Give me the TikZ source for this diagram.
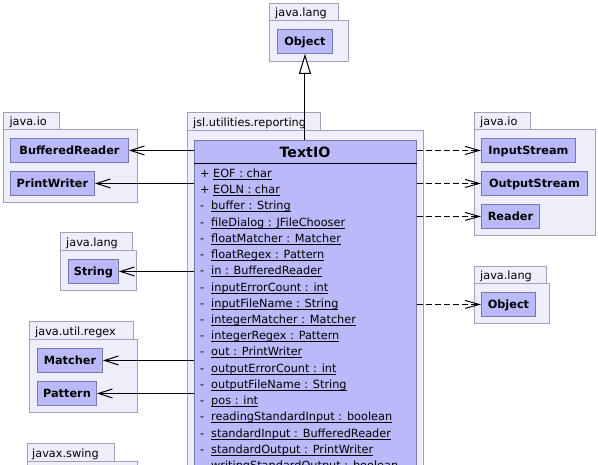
\documentclass[tikz,border=0pt]{standalone}
\usepackage{fontspec}
\setmainfont{DejaVu Sans}
\usetikzlibrary{arrows.meta}
\definecolor{pkgfill}{RGB}{238,238,250}
\definecolor{pkgline}{RGB}{160,160,184}
\definecolor{clsfill}{RGB}{186,186,250}
\definecolor{clsline}{RGB}{120,120,176}
\newcommand\ulx[1]{\setbox0\hbox{#1}\rlap{\rule[-2.4pt]{\wd0}{0.9pt}}\box0}
\begin{document}
\begin{tikzpicture}[x=1pt,y=-1pt,
  font=\fontsize{11.3}{13}\selectfont,
  pkg/.style={draw=pkgline, fill=pkgfill, line width=0.9pt},
  pkglabel/.style={anchor=base west, inner sep=0pt},
  cls/.style={draw=clsline, fill=clsfill, line width=0.9pt,
    font=\fontsize{11.3}{13}\selectfont\bfseries, text height=8.2pt,
    text depth=0pt, minimum height=24pt, inner xsep=2pt, anchor=north west},
  assoc/.style={line width=1pt, -{Straight Barb[length=14pt,width=9pt]}},
  dep/.style={line width=1pt, dash pattern=on 6pt off 3pt,
    -{Straight Barb[length=14pt,width=8pt]}},
  inh/.style={line width=1pt, -{Triangle[open,length=20pt,width=12pt,fill=white]}},
  attr/.style={anchor=base west, inner sep=0pt}]
\clip (0,0) rectangle (598,464);
\fill[white] (0,0) rectangle (598,464);
% packages
\draw[pkg] (269,3) rectangle (338,20);
\draw[pkg] (269,20) rectangle (348,61);
\node[pkglabel] (pl1) at (275,16.5) {java.lang};
\draw[pkg] (3,112) rectangle (59,129);
\draw[pkg] (3,129) rectangle (137,202);
\node[pkglabel] (pl2) at (9.3,125.5) {java.io};
\draw[pkg] (60,232) rectangle (132,250);
\draw[pkg] (60,250) rectangle (136,290);
\node[pkglabel] (pl3) at (66,246.5) {java.lang};
\draw[pkg] (29,321) rectangle (133,339);
\draw[pkg] (29,339) rectangle (137,412);
\node[pkglabel] (pl4) at (35,335.5) {java.util.regex};
\draw[pkg] (27,443) rectangle (114,461);
\draw[pkg] (27,461) rectangle (137,480);
\node[pkglabel] (pl5) at (32,457.5) {javax.swing};
\draw[pkg] (187,112) rectangle (320,130);
\draw[pkg] (187,130) rectangle (423,480);
\node[pkglabel] (pl6) at (193,126) {jsl.utilities.reporting};
\draw[pkg] (474,112) rectangle (530,129);
\draw[pkg] (474,129) rectangle (595,235);
\node[pkglabel] (pl7) at (480,125.5) {java.io};
\draw[pkg] (474,266) rectangle (546,283);
\draw[pkg] (474,283) rectangle (549,323);
\node[pkglabel] (pl8) at (480,279.5) {java.lang};
% classes
\node[cls, minimum width=55pt] (objtop) at (277,29) {Object};
\node[cls, minimum width=118pt] (br) at (10,138) {BufferedReader};
\node[cls, minimum width=84pt] (pw) at (10,171) {PrintWriter};
\node[cls, minimum width=50pt] (str) at (68,259) {String};
\node[cls, minimum width=65pt] (mat) at (37,348) {Matcher};
\node[cls, minimum width=59pt] (pat) at (37,381) {Pattern};
\node[cls, minimum width=94pt] (is) at (481,138) {InputStream};
\node[cls, minimum width=106pt] (os) at (481,171) {OutputStream};
\node[cls, minimum width=58pt] (rd) at (481,204) {Reader};
\node[cls, minimum width=54pt] (objr) at (481,292) {Object};
% TextIO
\node[draw=clsline, fill=clsfill, line width=0.9pt, minimum width=222pt,
  minimum height=400pt, inner sep=0pt, anchor=north west] (tio) at (194,140) {};
\node[anchor=base, inner sep=0pt, font=\fontsize{14.2}{16}\selectfont\bfseries]
  (tiotitle) at (305,157) {TextIO};
\draw[line width=1pt] (tio.west |- 0,163.5) -- (tio.east |- 0,163.5);
\foreach [count=\i] \s/\xx/\t in {
  +/213/EOF : char, +/213/EOLN : char, -/211/buffer : String,
  -/211/fileDialog : JFileChooser, -/211/floatMatcher : Matcher,
  -/211/floatRegex : Pattern, -/211/in : BufferedReader,
  -/211/inputErrorCount : int, -/211/inputFileName : String,
  -/211/integerMatcher : Matcher, -/211/integerRegex : Pattern,
  -/211/out : PrintWriter, -/211/outputErrorCount : int,
  -/211/outputFileName : String, -/211/pos : int,
  -/211/readingStandardInput : boolean, -/211/standardInput : BufferedReader,
  -/211/standardOutput : PrintWriter, -/211/writingStandardOutput : boolean}
{
  \node[attr] (vis\i) at (200,{177.4+16.23*(\i-1)}) {\s};
  \node[attr] (att\i) at (\xx,{177.4+16.23*(\i-1)}) {\ulx{\t}};
}
% connectors
\draw[inh] (tio.north -| objtop.south) -- (objtop.south);
\draw[assoc] (tio.west |- br.east) -- (br.east);
\draw[assoc] (tio.west |- pw.east) -- (pw.east);
\draw[assoc] (tio.west |- str.east) -- (str.east);
\draw[assoc] (tio.west |- mat.east) -- (mat.east);
\draw[assoc] (tio.west |- pat.east) -- (pat.east);
\draw[dep] (tio.east |- is.west) -- (is.west);
\draw[dep] (tio.east |- os.west) -- (os.west);
\draw[dep] (tio.east |- rd.west) -- (rd.west);
\draw[dep] (tio.east |- objr.west) -- (objr.west);
\end{tikzpicture}
\end{document}
